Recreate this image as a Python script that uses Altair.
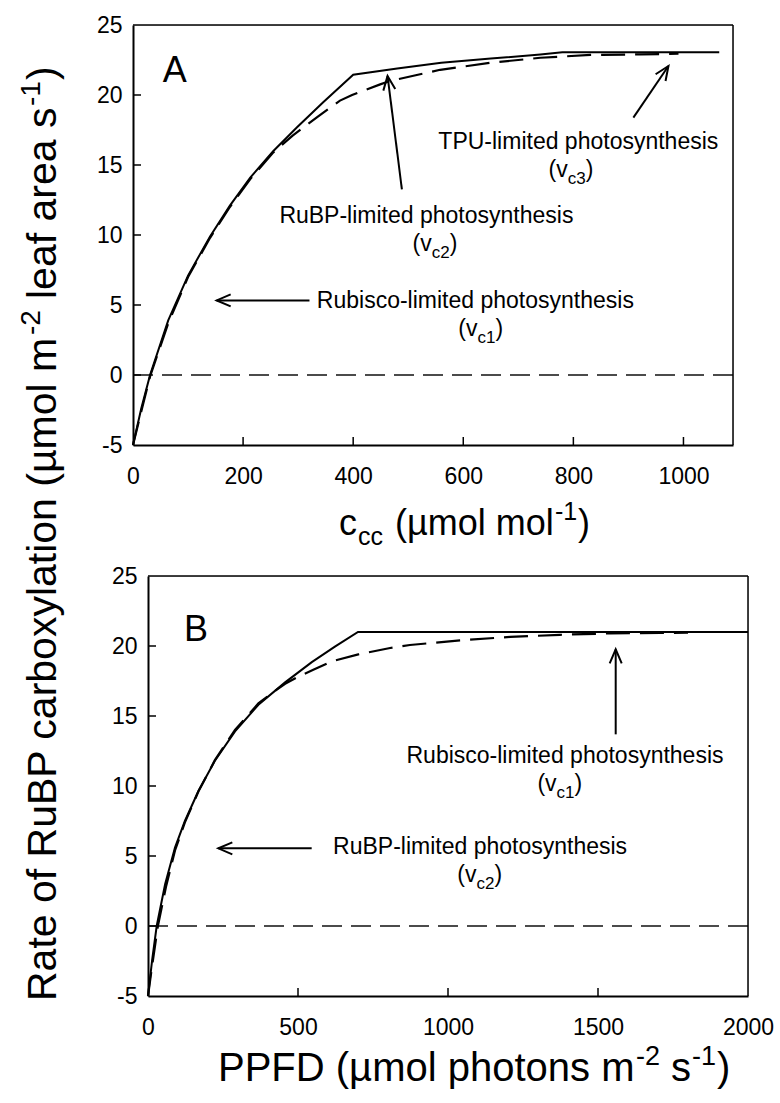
import math
import altair as alt
import pandas as pd

FONT = "Liberation Sans"
W, H = 600, 420

# ---------------- scales / ticks ----------------
y_dom = [-5, 25]
y_ticks = [-5, 0, 5, 10, 15, 20, 25]
a_x_dom = [0, 1090]
a_x_ticks = [0, 200, 400, 600, 800, 1000]
b_x_dom = [0, 2000]
b_x_ticks = [0, 500, 1000, 1500, 2000]

# ---------------- Panel A (c_cc) ----------------
a_solid_x = [0, 15, 31, 64, 100, 140, 176, 213, 255, 298, 346, 400, 480, 560, 650, 740, 780, 1065]
a_solid_y = [-5, -2.4, 0, 3.9, 7.1, 9.9, 12.1, 14.1, 16.0, 17.7, 19.5, 21.45, 21.9, 22.3, 22.6, 22.9, 23.05, 23.05]
a_dash_x = [0, 15, 31, 64, 100, 140, 176, 213, 255, 290, 334, 376, 398, 449, 467, 558, 649, 740, 831, 922, 991]
a_dash_y = [-5, -2.6, -0.1, 3.7, 7.0, 9.8, 12.0, 14.0, 15.9, 17.1, 18.4, 19.6, 20.0, 20.76, 21.0, 21.8, 22.3, 22.66, 22.86, 22.9, 22.95]

a_text = ["TPU-limited photosynthesis", "RuBP-limited photosynthesis", "Rubisco-limited photosynthesis"]
a_text_x = [809, 533, 622]
a_text_y = [16.14, 10.86, 4.79]
a_sub = ["c3", "c2", "c1"]
a_sub_x = [806, 559, 642]
a_sub_y = [14.14, 8.86, 2.79]
a_arrow_x = [909, 488.5, 320.6]
a_arrow_y = [18.38, 13.26, 5.33]
a_arrow_x2 = [972.7, 462.4, 152]
a_arrow_y2 = [22.07, 21.36, 5.33]

# ---------------- Panel B (PPFD) ----------------
b_solid_x = [0, 14, 29, 57, 90, 123, 168, 223, 290, 368, 457, 546, 623, 700, 2000]
b_solid_y = [-5, -2.4, 0, 2.98, 5.6, 7.5, 9.64, 11.8, 13.9, 15.8, 17.4, 18.85, 19.95, 21.0, 21.0]
b_dash_x = [0, 14, 33, 60, 90, 123, 168, 223, 290, 368, 420, 457, 500, 551, 612, 701, 807, 873, 1040, 1207, 1373, 1540, 1707, 1800]
b_dash_y = [-5, -2.8, 0, 2.8, 5.4, 7.4, 9.6, 11.85, 14.0, 15.9, 16.75, 17.3, 17.8, 18.3, 18.9, 19.4, 19.86, 20.07, 20.4, 20.65, 20.8, 20.9, 20.93, 20.95]

b_text = ["Rubisco-limited photosynthesis", "RuBP-limited photosynthesis"]
b_text_x = [1390, 1107]
b_text_y = [11.66, 5.12]
b_sub = ["c1", "c2"]
b_sub_x = [1392, 1125]
b_sub_y = [9.64, 3.14]
b_arrow_x = [1559, 545.6]
b_arrow_y = [13.69, 5.55]
b_arrow_x2 = [1559, 234.4]
b_arrow_y2 = [19.76, 5.55]

ARROW_HEAD = "M-0.6,1.4L0,0L0.6,1.4"


def title_pieces(items, x0, y0, angle=0):
    layers = []
    for text, dx, dy, size in items:
        layers.append(
            alt.Chart(pd.DataFrame({"t": [text]}))
            .mark_text(align="left", baseline="alphabetic", font=FONT, fontSize=size,
                       dx=dx, dy=dy, angle=angle, color="black")
            .encode(x=alt.value(x0), y=alt.value(y0), text="t:N")
        )
    return layers


def panel(letter, letter_x, letter_y, x_dom, x_ticks, sx, sy, dx_, dy_,
          texts, tx, ty, subs, ux, uy, ax, ay, ax2, ay2, extra):
    px = W / (x_dom[1] - x_dom[0])
    py = H / (y_dom[1] - y_dom[0])
    xs = alt.Scale(domain=x_dom, nice=False, zero=False)
    ys = alt.Scale(domain=y_dom, nice=False, zero=False)
    common = dict(ticks=False, tickSize=0, labelFontSize=23, labelFont=FONT,
                  labelColor="black", labelOverlap=False, domainColor="black",
                  domainWidth=2, grid=False, labelExpr="'' + datum.value", title=None)
    xaxis = alt.Axis(values=x_ticks, labelPadding=20, labelFlush=False, **common)
    yaxis = alt.Axis(values=y_ticks, labelPadding=11, **common)

    def X(f):
        return alt.X(f, type="quantitative", scale=xs, axis=xaxis)

    def Y(f):
        return alt.Y(f, type="quantitative", scale=ys, axis=yaxis)

    solid = pd.DataFrame({"x": sx, "y": sy})
    dashed = pd.DataFrame({"x": dx_, "y": dy_})
    lab = pd.DataFrame({"x": tx, "y": ty, "t": texts})
    sub = pd.DataFrame({"x": ux, "y": uy, "s": subs})
    ang = [math.degrees(math.atan2((b - a) * px, (d - c) * py)) % 360
           for a, b, c, d in zip(ax, ax2, ay, ay2)]
    arr = pd.DataFrame({"x": ax, "y": ay, "x2": ax2, "y2": ay2, "ang": ang})
    xt = pd.DataFrame({"t": x_ticks[1:-1] if x_ticks[-1] == x_dom[1] else x_ticks[1:]})
    yt = pd.DataFrame({"t": y_ticks[1:-1]})

    layers = [
        alt.Chart(pd.DataFrame({"v": [0]})).mark_rule(color="#111", strokeWidth=1.3, strokeDash=[20, 9]).encode(y=Y("v")),
        alt.Chart(solid).mark_line(color="black", strokeWidth=2).encode(x=X("x"), y=Y("y")),
        alt.Chart(dashed).mark_line(color="black", strokeWidth=2.2, strokeDash=[24, 10]).encode(x=X("x"), y=Y("y")),
        alt.Chart(xt).mark_rule(color="black", strokeWidth=1.5).encode(x=X("t"), y=alt.value(H), y2=alt.value(H - 8)),
        alt.Chart(yt).mark_rule(color="black", strokeWidth=1.5).encode(y=Y("t"), x=alt.value(0), x2=alt.value(8)),
        alt.Chart(pd.DataFrame({"v": [0]})).mark_rule(color="black", strokeWidth=1.5).encode(x=alt.value(0), x2=alt.value(W), y=alt.value(0)),
        alt.Chart(pd.DataFrame({"v": [0]})).mark_rule(color="black", strokeWidth=1.5).encode(x=alt.value(W), y=alt.value(0), y2=alt.value(H)),
        alt.Chart(lab).mark_text(align="center", baseline="alphabetic", font=FONT, fontSize=23, color="black").encode(x=X("x"), y=Y("y"), text="t:N"),
        alt.Chart(sub).mark_text(text="(v", align="right", baseline="alphabetic", dx=-9, font=FONT, fontSize=23, color="black").encode(x=X("x"), y=Y("y")),
        alt.Chart(sub).mark_text(align="center", baseline="alphabetic", dy=7, font=FONT, fontSize=17, color="black").encode(x=X("x"), y=Y("y"), text="s:N"),
        alt.Chart(sub).mark_text(text=")", align="left", baseline="alphabetic", dx=9, font=FONT, fontSize=23, color="black").encode(x=X("x"), y=Y("y")),
        alt.Chart(arr).mark_rule(color="black", strokeWidth=2).encode(x=X("x"), y=Y("y"), x2=alt.X2("x2"), y2=alt.Y2("y2")),
        alt.Chart(arr).mark_point(shape=ARROW_HEAD, filled=False, size=400, strokeWidth=2, color="black", opacity=1).encode(
            x=X("x2"), y=Y("y2"), angle=alt.Angle("ang:Q", scale=None)),
        alt.Chart(pd.DataFrame({"x": [letter_x], "y": [letter_y], "t": [letter]})).mark_text(
            align="center", baseline="alphabetic", font=FONT, fontSize=36, color="black").encode(x=X("x"), y=Y("y"), text="t:N"),
    ] + extra
    return alt.layer(*layers).properties(width=W, height=H)


# titles (rel. to panel origin); SVG drops leading spaces, so gaps are in dx
ytitle = title_pieces([
    ("Rate of RuBP carboxylation (\u00b5mol m", 0, 0, 41),
    ("-2", 666, -16, 28),
    ("leaf area s", 702, 0, 41),
    ("-1", 895, -16, 28),
    (")", 921, 0, 41),
], -77, 976, angle=270)
xtitleA = title_pieces([
    ("c", 0, 0, 36),
    ("cc", 19, 10, 25),
    ("(\u00b5mol mol", 56, 0, 36),
    ("-1", 216, -15, 25),
    (")", 239, 0, 36),
], 206, 510)
xtitleB = title_pieces([
    ("PPFD (\u00b5mol photons m", 0, 0, 40),
    ("-2", 418, -16, 27),
    ("s", 453, 0, 40),
    ("-1", 474, -16, 27),
    (")", 499, 0, 40),
], 70, 505)

pA = panel("A", 76, 20.9, a_x_dom, a_x_ticks, a_solid_x, a_solid_y, a_dash_x, a_dash_y,
           a_text, a_text_x, a_text_y, a_sub, a_sub_x, a_sub_y,
           a_arrow_x, a_arrow_y, a_arrow_x2, a_arrow_y2, ytitle + xtitleA)
pB = panel("B", 160, 20.36, b_x_dom, b_x_ticks, b_solid_x, b_solid_y, b_dash_x, b_dash_y,
           b_text, b_text_x, b_text_y, b_sub, b_sub_x, b_sub_y,
           b_arrow_x, b_arrow_y, b_arrow_x2, b_arrow_y2, xtitleB)

spacer = alt.Chart(pd.DataFrame({"t": [""]})).mark_text().encode(text="t:N").properties(width=15, height=H)

chart = alt.vconcat(
    pA,
    alt.hconcat(spacer, pB, spacing=0, bounds="flush"),
    spacing=131,
    bounds="flush",
).properties(
    padding={"left": 17, "top": 13, "right": 0, "bottom": 0},
    background="white",
).configure_view(stroke=None).configure(font=FONT)

chart.save("out.html", embed_options={"renderer": "svg", "actions": False})
